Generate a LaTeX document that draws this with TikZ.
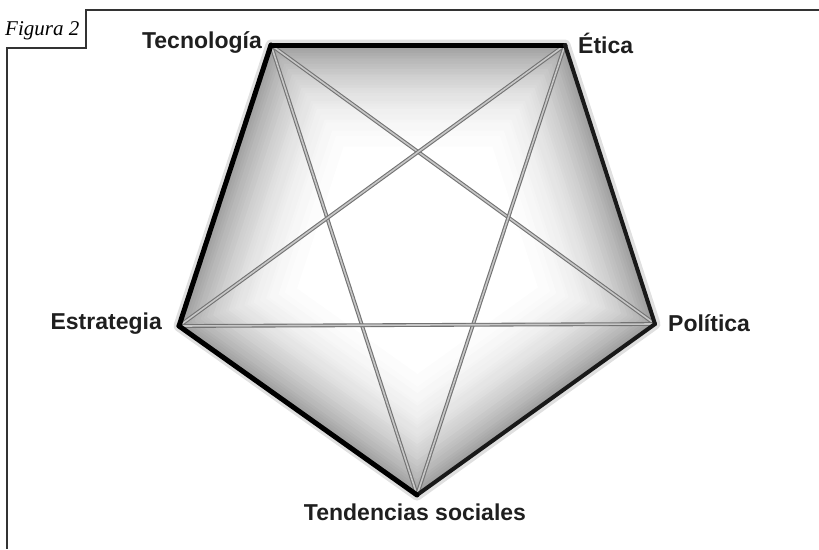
\documentclass[tikz,border=0pt]{standalone}
\usepackage{fontspec}
\setmainfont{Liberation Sans}
\newfontfamily\figserif{Liberation Serif}
\usetikzlibrary{calc}
\begin{document}
\begin{tikzpicture}[x=1pt,y=-1pt,
  lbl/.style={font=\fontsize{23}{25}\selectfont\bfseries, text=black!88, inner sep=0pt},
  frameline/.style={draw=black!80, line width=1.5pt},
  halo/.style={draw=black!12, line width=11pt, line join=round, line cap=round},
  edgeline/.style={draw=black, line width=5pt, line join=round, line cap=round},
  edgethin/.style={draw=black!90, line width=4pt, line join=round, line cap=round},
  diagline/.style={draw=black!55, line width=1.1pt, double=black!22, double distance=1.6pt}]
\useasboundingbox (0,0) rectangle (819,549);
% frame
\draw[frameline] (819,10) -- (86,10) -- (86,48) -- (7,48) -- (7,549);
\node[font=\figserif\itshape\fontsize{21}{22}\selectfont, anchor=base west, inner sep=0pt] (fig) at (5,35) {Figura 2};
% vertices
\coordinate (T) at (271,45);
\coordinate (E) at (565,45);
\coordinate (P) at (655,324);
\coordinate (B) at (417,495);
\coordinate (S) at (179,326);
\coordinate (C) at (418,250);
% halo
\draw[halo] (T) -- (E) -- (P) -- (B) -- (S) -- cycle;
% shaded interior
\foreach \i in {0,...,50}{
  \pgfmathsetmacro\s{1-\i*0.013}
  \pgfmathtruncatemacro\c{38*(1-\i/50)^2.6}
  \fill[black!\c] ($(C)!\s!(T)$) -- ($(C)!\s!(E)$) -- ($(C)!\s!(P)$) -- ($(C)!\s!(B)$) -- ($(C)!\s!(S)$) -- cycle;
}
% pentagram
\draw[diagline] (T) -- (B);
\draw[diagline] (T) -- (P);
\draw[diagline] (E) -- (S);
\draw[diagline] (E) -- (B);
\draw[diagline] (S) -- (P);
% edges
\draw[edgeline] (T) -- (E);
\draw[edgethin] (E) -- (P);
\draw[edgethin] (P) -- (B);
\draw[edgeline] (B) -- (S);
\draw[edgeline] (S) -- (T);
% labels
\node[lbl, anchor=east] (tec) at (262,43) {Tecnología};
\node[lbl, anchor=west] (eti) at (578,43) {Ética};
\node[lbl, anchor=west] (pol) at (668,323) {Política};
\node[lbl, anchor=east] (est) at (162,324) {Estrategia};
\node[lbl, anchor=north] (ten) at (415,504) {Tendencias sociales};
\end{tikzpicture}
\end{document}
